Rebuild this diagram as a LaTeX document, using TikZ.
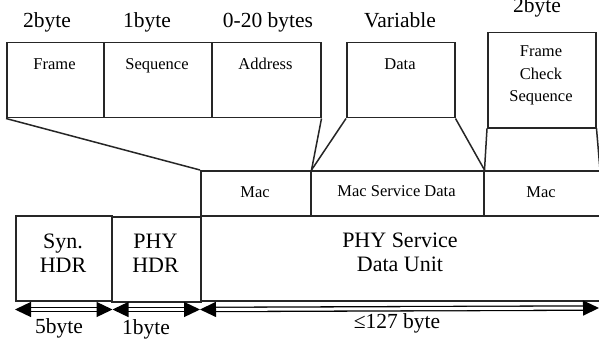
\documentclass[tikz,border=0pt]{standalone}
\usepackage{fontspec}
\setmainfont{Liberation Serif}
\usetikzlibrary{arrows.meta,calc}
\begin{document}
\begin{tikzpicture}[x=1pt,y=-1pt,
  box/.style={draw=black!85,line width=1.5pt,minimum height=#1,inner sep=0pt,anchor=north west},
  big/.style={font=\fontsize{21.5}{22.5}\selectfont,inner sep=0pt,anchor=base,align=center},
  mid/.style={font=\fontsize{22}{24}\selectfont,inner sep=0pt,anchor=base,align=center},
  small/.style={font=\fontsize{16.5}{22.5}\selectfont,inner sep=0pt,anchor=base,align=center},
  dimarrow/.style={draw=black,line width=1.3pt,double,double distance=3pt,
    {Triangle[length=16pt,width=15pt]}-{Triangle[length=16pt,width=15pt]}},
  link/.style={draw=black!85,line width=1.5pt}]
\clip (0,0) rectangle (599,342);
\fill[white] (0,0) rectangle (599,342);
% top fields
\node[box=75pt,minimum width=97pt] (frame) at (6,42) {};
\node[box=75pt,minimum width=108pt] (seq) at (103,42) {};
\node[box=75pt,minimum width=109pt] (addr) at (211,42) {};
\node[box=75pt,minimum width=108pt] (data) at (346,42) {};
\node[box=95pt,minimum width=108pt] (fcs) at (487,32) {};
% MAC row
\node[box=45pt,minimum width=110pt] (mac1) at (200,170) {};
\node[box=45pt,minimum width=173pt] (msd) at (310,170) {};
\node[box=45pt,minimum width=127pt] (mac2) at (483,170) {};
% PHY row
\node[box=85pt,minimum width=96pt] (syn) at (15,215) {};
\node[box=85pt,minimum width=89pt] (phyhdr) at (111,216) {};
\node[box=85pt,minimum width=410pt] (psdu) at (200,215) {};
% size labels top
\node[big] (l1) at (47,28) {2byte};
\node[big] (l2) at (147,28) {1byte};
\node[big] (l3) at (268,28) {0-20 bytes};
\node[big] (l4) at (400,28) {Variable};
\node[big] (l5) at (537,13) {2byte};
% field names
\node[small] (t1) at (54.5,70) {Frame};
\node[small] (t2) at (157,70) {Sequence};
\node[small] (t3) at (265.5,70) {Address};
\node[small] (t4) at (400,70) {Data};
\node[small] (t5) at (541,102) {Frame\\Check\\Sequence};
\node[small] (t6) at (255,197) {Mac};
\node[small] (t7) at (396.5,196) {Mac Service Data};
\node[small] (t8) at (541,197) {Mac};
\node[mid] (t9) at (63,272) {Syn.\\HDR};
\node[mid] (t10) at (155.5,272) {PHY\\HDR};
\node[mid] (t11) at (400,271) {PHY Service\\Data Unit};
% trapezoid links
\coordinate (fcsend) at (600,170);
\draw[link] (frame.south west) -- (mac1.north west);
\draw[link] (addr.south east) -- (mac1.north east);
\draw[link] (data.south west) -- (mac1.north east);
\draw[link] (data.south east) -- (msd.north east);
\draw[link] (fcs.south west) -- (msd.north east);
\draw[link] (fcs.south east) -- (fcsend);
% dimension arrows
\coordinate (a0) at ($(syn.south west)+(0,8)$);
\coordinate (a1) at ($(syn.south east)+(0,8)$);
\coordinate (a2) at ($(psdu.south west)+(0,8)$);
\coordinate (a3) at (599,308);
\draw[dimarrow] (a0) -- (a1);
\draw[dimarrow] (a1) -- (a2);
\draw[dimarrow] (a2) -- (a3);
\node[big] (b1) at (59,333) {5byte};
\node[big] (b2) at (146,334) {1byte};
\node[big] (b3) at (397,328) {≤127 byte};
\end{tikzpicture}
\end{document}
